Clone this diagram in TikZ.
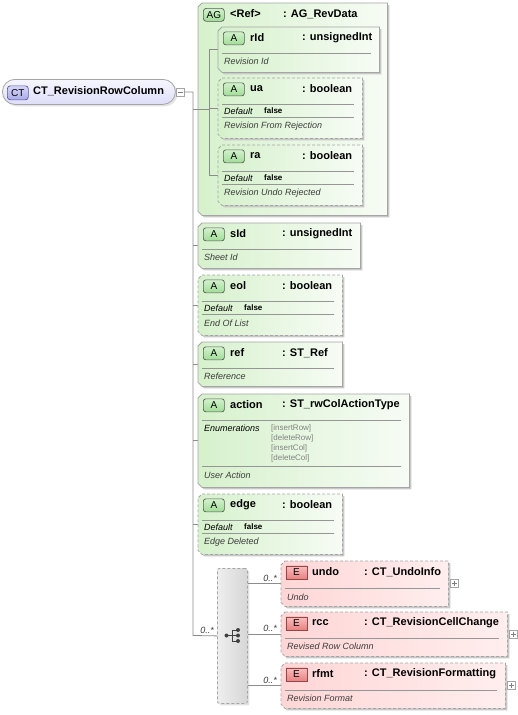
\documentclass[tikz,border=0pt]{standalone}
\usepackage{fontspec}
\setmainfont{Liberation Sans}
\usetikzlibrary{shadows}
\definecolor{gfillA}{RGB}{214,241,204}
\definecolor{gfillB}{RGB}{247,252,245}
\definecolor{pfillA}{RGB}{255,214,214}
\definecolor{pfillB}{RGB}{255,238,238}
\definecolor{bord}{RGB}{165,165,165}
\definecolor{shad}{RGB}{200,200,200}
\definecolor{iconGa}{RGB}{210,242,204}
\definecolor{iconGb}{RGB}{160,220,150}
\definecolor{iconRa}{RGB}{250,190,190}
\definecolor{iconRb}{RGB}{232,130,130}
\definecolor{iconBa}{RGB}{215,215,250}
\definecolor{iconBb}{RGB}{170,170,235}
\definecolor{icbd}{RGB}{90,90,90}
\definecolor{icbdR}{RGB}{150,70,70}
\definecolor{icbdB}{RGB}{90,90,150}
\definecolor{txtg}{RGB}{60,60,60}
\definecolor{enumc}{RGB}{130,130,130}
\definecolor{linec}{RGB}{140,140,140}
\definecolor{sepc}{RGB}{150,150,150}
\definecolor{ctA}{RGB}{222,222,250}
\definecolor{ctB}{RGB}{246,246,255}
\definecolor{chA}{RGB}{238,238,238}
\definecolor{chB}{RGB}{214,214,214}

\newcommand\chbox[4]{%
 \fill[shad] ([xshift=6pt,yshift=-2pt]#1.north west) -- ([xshift=2pt,yshift=-2pt]#1.north east) -- ([xshift=2pt,yshift=-2pt]#1.south east) -- ([xshift=6pt,yshift=-2pt]#1.south west) -- ([xshift=2pt,yshift=2pt]#1.south west) -- ([xshift=2pt,yshift=-6pt]#1.north west) -- cycle;
 \shade[left color=#2,right color=#3] ([xshift=4pt]#1.north west) -- (#1.north east) -- (#1.south east) -- ([xshift=4pt]#1.south west) -- ([yshift=4pt]#1.south west) -- ([yshift=-4pt]#1.north west) -- cycle;
 \draw[bord,line width=0.8pt,#4] ([xshift=4pt]#1.north west) -- (#1.north east) -- (#1.south east) -- ([xshift=4pt]#1.south west) -- ([yshift=4pt]#1.south west) -- ([yshift=-4pt]#1.north west) -- cycle;
}
\newcommand\hdr[7]{%
 \node[#2] (#1-i) at ([xshift=#6pt,yshift=-4.5pt]#1.north west) {#3};
 \node[hname] (#1-n) at ([xshift=#7pt,yshift=-11pt]#1.north west) {#4};
 \node[hname] (#1-t) at ([xshift=#7pt,xshift=52pt,yshift=-11pt]#1.north west) {#5};
}
\newcommand\sepline[2]{\draw[sepl] ([xshift=4pt,yshift=-#2pt]#1.north west) -- ([xshift=-8pt,yshift=-#2pt]#1.north east);}
\newcommand\dsc[3]{\node[desc] (#1-ds) at ([xshift=6pt,yshift=-#2pt]#1.north west) {#3};}
\newcommand\dflt[2]{\node[deflab] (#1-dl) at ([xshift=6pt,yshift=-#2pt]#1.north west) {Default};
 \node[defval] (#1-dv) at ([xshift=46pt,yshift=-#2pt]#1.north west) {false};}

\begin{document}
\begin{tikzpicture}[x=1pt,y=-1pt,
  bx/.style={draw=none,inner sep=0pt,anchor=north west,rectangle},
  conn/.style={draw=linec,line width=0.8pt},
  sepl/.style={draw=sepc,line width=0.7pt},
  hname/.style={inner sep=0pt,anchor=west,font=\fontsize{11}{13}\selectfont\bfseries},
  desc/.style={inner sep=0pt,anchor=west,font=\fontsize{9}{11}\selectfont\itshape,text=txtg},
  deflab/.style={inner sep=0pt,anchor=west,font=\fontsize{9}{11}\selectfont\itshape},
  defval/.style={inner sep=0pt,anchor=west,font=\fontsize{8}{10}\selectfont\bfseries},
  enumv/.style={inner sep=0pt,anchor=west,font=\fontsize{8}{9}\selectfont,text=enumc},
  mult/.style={inner sep=0pt,anchor=base east,font=\fontsize{9}{11}\selectfont\itshape,text=txtg},
  iconA/.style={draw=icbd,line width=0.7pt,rounded corners=2.5pt,top color=iconGa,bottom color=iconGb,minimum width=21pt,minimum height=13pt,inner sep=0pt,anchor=north west,font=\fontsize{10}{11}\selectfont},
  iconE/.style={draw=icbdR,line width=0.7pt,top color=iconRa,bottom color=iconRb,minimum width=21pt,minimum height=13pt,inner sep=0pt,anchor=north west,font=\fontsize{10}{11}\selectfont},
  iconCT/.style={draw=icbdB,line width=0.7pt,rounded corners=3pt,top color=iconBa,bottom color=iconBb,minimum width=21pt,minimum height=14pt,inner sep=0pt,anchor=north west,font=\fontsize{10}{11}\selectfont},
  pm/.style={draw=bord,fill=white,minimum size=8pt,inner sep=0pt,line width=0.6pt},
  plusbox/.style={pm,path picture={\draw[gray,line width=0.6pt] ([xshift=-2.5pt]path picture bounding box.center) -- ([xshift=2.5pt]path picture bounding box.center) ([yshift=-2.5pt]path picture bounding box.center) -- ([yshift=2.5pt]path picture bounding box.center);}},
  minusbox/.style={pm,path picture={\draw[gray,line width=0.6pt] ([xshift=-2.5pt]path picture bounding box.center) -- ([xshift=2.5pt]path picture bounding box.center);}},
]
\useasboundingbox (0,0) rectangle (518,715);
\fill[white] (0,0) rectangle (518,715);

% ---------- box placeholders
\node[bx,minimum width=189pt,minimum height=212pt] (ag) at (198,3) {};
\node[bx,minimum width=161pt,minimum height=45pt] (rId) at (218,27) {};
\node[bx,minimum width=144pt,minimum height=60pt] (ua) at (218,78) {};
\node[bx,minimum width=144pt,minimum height=60pt] (ra) at (218,145) {};
\node[bx,minimum width=162pt,minimum height=45pt] (sId) at (198,223) {};
\node[bx,minimum width=144pt,minimum height=60pt] (eol) at (198,275) {};
\node[bx,minimum width=144pt,minimum height=44pt] (ref) at (198,342) {};
\node[bx,minimum width=211pt,minimum height=93pt] (action) at (198,394) {};
\node[bx,minimum width=144pt,minimum height=60pt] (edge) at (198,494) {};
\node[bx,minimum width=167pt,minimum height=45pt] (undo) at (281,561) {};
\node[bx,minimum width=226pt,minimum height=44pt] (rcc) at (281,612) {};
\node[bx,minimum width=224pt,minimum height=45pt] (rfmt) at (281,663) {};

% ---------- root
\node[bx,minimum width=173pt,minimum height=25pt,draw=bord,line width=0.8pt,rounded corners=12.5pt,top color=ctB,bottom color=ctA,drop shadow={shadow xshift=2pt,shadow yshift=-2pt,fill=shad}] (ct) at (2,79) {};
\node[iconCT] (ct-i) at (7,85.5) {CT};
\node[hname] (ct-n) at (33,91.5) {CT\_RevisionRowColumn};
\node[minusbox] (ct-m) at (180,92) {};

% ---------- choice
\node[bx,minimum width=30pt,minimum height=135pt,draw=bord,dash pattern=on 3pt off 2pt,line width=0.8pt,rounded corners=2pt,left color=chA,right color=chB,drop shadow={shadow xshift=2pt,shadow yshift=-2pt,fill=shad}] (ch) at (217,568) {};

% ---------- trunk connectors
\coordinate (tb) at (193,635.5);
\draw[conn] (ct-m.east) -| (tb) -- (ch.west);
\foreach \b in {sId,eol,ref,action,edge}{\draw[conn] (\b.west -| tb) -- (\b.west);}
\draw[conn] (ch.east |- undo.west) -- (undo.west);
\draw[conn] (ch.east |- rcc.west) -- (rcc.west);
\draw[conn] (ch.east |- rfmt.west) -- (rfmt.west);

% ---------- AG group
\chbox{ag}{gfillA}{gfillB}{}
\coordinate (agj) at ([xshift=11pt]ag.west);
\draw[conn] (ag.west -| tb) -- (agj);
\draw[conn] (agj |- rId.west) -- (agj |- ra.west);
\foreach \b in {rId,ua,ra}{\draw[conn] (agj |- \b.west) -- (\b.west);}
\node[iconA,rounded corners=3pt] (ag-i) at (203,8) {AG};
\node[hname] (ag-n) at (230,14) {<Ref>};
\node[hname] (ag-t) at (283,14) {: AG\_RevData};

% ---------- attribute boxes
\chbox{rId}{gfillA}{gfillB}{}
\chbox{ua}{gfillA}{gfillB}{dash pattern=on 3pt off 2pt}
\chbox{ra}{gfillA}{gfillB}{dash pattern=on 3pt off 2pt}
\chbox{sId}{gfillA}{gfillB}{}
\chbox{eol}{gfillA}{gfillB}{dash pattern=on 3pt off 2pt}
\chbox{ref}{gfillA}{gfillB}{}
\chbox{action}{gfillA}{gfillB}{}
\chbox{edge}{gfillA}{gfillB}{dash pattern=on 3pt off 2pt}
\chbox{undo}{pfillA}{pfillB}{dash pattern=on 3pt off 2pt}
\chbox{rcc}{pfillA}{pfillB}{dash pattern=on 3pt off 2pt}
\chbox{rfmt}{pfillA}{pfillB}{dash pattern=on 3pt off 2pt}

% rId
\hdr{rId}{iconA}{A}{rId}{: unsignedInt}{5}{32}
\sepline{rId}{26}
\dsc{rId}{34}{Revision Id}
% ua
\hdr{ua}{iconA}{A}{ua}{: boolean}{5}{32}
\sepline{ua}{26}
\dflt{ua}{33}
\sepline{ua}{39.5}
\dsc{ua}{48}{Revision From Rejection}
% ra
\hdr{ra}{iconA}{A}{ra}{: boolean}{5}{32}
\sepline{ra}{26}
\dflt{ra}{33}
\sepline{ra}{39.5}
\dsc{ra}{48}{Revision Undo Rejected}
% sId
\hdr{sId}{iconA}{A}{sId}{: unsignedInt}{5}{32}
\sepline{sId}{26}
\dsc{sId}{34}{Sheet Id}
% eol
\hdr{eol}{iconA}{A}{eol}{: boolean}{5}{32}
\sepline{eol}{26}
\dflt{eol}{33}
\sepline{eol}{39.5}
\dsc{eol}{48}{End Of List}
% ref
\hdr{ref}{iconA}{A}{ref}{: ST\_Ref}{5}{32}
\sepline{ref}{26}
\dsc{ref}{34}{Reference}
% action
\hdr{action}{iconA}{A}{action}{: ST\_rwColActionType}{5}{32}
\sepline{action}{26}
\node[deflab] (action-el) at ([xshift=6pt,yshift=-34pt]action.north west) {Enumerations};
\node[enumv] (action-e1) at ([xshift=73pt,yshift=-34pt]action.north west) {[insertRow]};
\node[enumv] (action-e2) at ([xshift=73pt,yshift=-44pt]action.north west) {[deleteRow]};
\node[enumv] (action-e3) at ([xshift=73pt,yshift=-54pt]action.north west) {[insertCol]};
\node[enumv] (action-e4) at ([xshift=73pt,yshift=-64pt]action.north west) {[deleteCol]};
\sepline{action}{72.5}
\dsc{action}{81}{User Action}
% edge
\hdr{edge}{iconA}{A}{edge}{: boolean}{5}{32}
\sepline{edge}{26}
\dflt{edge}{33}
\sepline{edge}{39.5}
\dsc{edge}{48}{Edge Deleted}
% elements
\hdr{undo}{iconE}{E}{undo}{: CT\_UndoInfo}{4.5}{31}
\sepline{undo}{27}
\dsc{undo}{36}{Undo}
\hdr{rcc}{iconE}{E}{rcc}{: CT\_RevisionCellChange}{4.5}{31}
\sepline{rcc}{26.5}
\dsc{rcc}{34.5}{Revised Row Column}
\hdr{rfmt}{iconE}{E}{rfmt}{: CT\_RevisionFormatting}{4.5}{31}
\sepline{rfmt}{27}
\dsc{rfmt}{35}{Revision Format}

\node[plusbox] (undo-p) at ([xshift=6pt]undo.east) {};
\node[plusbox] (rcc-p) at ([xshift=6pt]rcc.east) {};
\node[plusbox] (rfmt-p) at ([xshift=6pt]rfmt.east) {};

% multiplicities
\node[mult] (m0) at ([xshift=-3pt,yshift=2.5pt]ch.west) {0..*};
\node[mult] (m1) at ([xshift=-4pt,yshift=2.5pt]undo.west) {0..*};
\node[mult] (m2) at ([xshift=-4pt,yshift=2.5pt]rcc.west) {0..*};
\node[mult] (m3) at ([xshift=-4pt,yshift=2.5pt]rfmt.west) {0..*};

% sequence icon
\draw[black!75,line width=1pt] (226.5,635.5) -- (232,635.5) (232,630) -- (232,641) (232,630) -- (238,630) (232,641) -- (238,641) (232,635.5) -- (238,635.5);
\fill[black!75] (226.5,635.5) circle (2pt) (238,630) circle (2pt) (238,635.5) circle (2pt) (238,641) circle (2pt);
\end{tikzpicture}
\end{document}
